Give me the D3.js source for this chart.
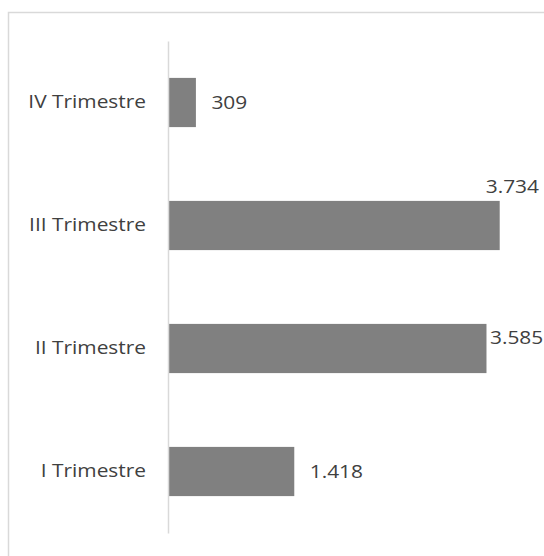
<!DOCTYPE html>
<html>
<head>
<meta charset="utf-8">
<script src="https://cdn.jsdelivr.net/npm/d3@7"></script>
<style>
  body { margin: 0; background: #fff; }
  svg { display: block; }
  text { font-family: "Open Sans", "Noto Sans", sans-serif; fill: #404040; }
</style>
</head>
<body>
<svg width="544" height="556"></svg>
<script>
let categories = ["IV Trimestre", "III Trimestre", "II Trimestre", "I Trimestre"];
let values = [309, 3734, 3585, 1418];
let valueLabels = ["309", "3.734", "3.585", "1.418"];

let svg = d3.select("svg"),
    width = +svg.attr("width"),
    height = +svg.attr("height");

let margin = {top: 41, left: 168, bottom: 23, right: 21};
let stretch = 1.16; // source text is rendered wide

// chart frame, cut off at right and bottom like the source
svg.append("rect")
    .attr("x", 8.5).attr("y", 12.5)
    .attr("width", width + 10).attr("height", height + 10)
    .attr("fill", "none")
    .attr("stroke", "#d9d9d9")
    .attr("stroke-width", 1.5);

let x = d3.scaleLinear()
    .domain([0, 4000])
    .range([margin.left, margin.left + 354.8]);

let y = d3.scaleBand()
    .domain(categories)
    .range([margin.top, height - margin.bottom])
    .paddingInner(0.6)
    .paddingOuter(0.3);

let data = categories.map((c, i) => ({cat: c, value: values[i], label: valueLabels[i]}));

svg.append("g")
    .selectAll("rect")
    .data(data).enter().append("rect")
        .attr("x", x(0) + 0.5)
        .attr("y", d => y(d.cat))
        .attr("width", d => x(d.value) - x(0))
        .attr("height", y.bandwidth())
        .attr("fill", "#808080");

// category axis
let yAxis = svg.append("g")
    .attr("transform", `translate(${x(0)},0)`)
    .call(d3.axisLeft(y).tickSize(0).tickPadding(22));
yAxis.select(".domain")
    .attr("stroke", "#d9d9d9")
    .attr("stroke-width", 1.5);
yAxis.selectAll("text")
    .attr("font-size", "18px")
    .attr("fill", "#404040")
    .style("font-family", "'Open Sans', sans-serif")
    .attr("x", -22 / stretch)
    .attr("transform", `scale(${stretch},1)`);

// value labels, moved in when they would spill out of the picture
let labels = svg.append("g")
    .selectAll("text")
    .data(data).enter().append("text")
        .attr("font-size", "18px")
        .attr("dy", "0.35em")
        .text(d => d.label);

labels.each(function(d){
    let t = d3.select(this);
    let w = this.getComputedTextLength() * stretch;
    let lx = x(d.value) + 16;
    let ly = y(d.cat) + y.bandwidth() / 2;
    if (lx + w > width - 5) {
        lx = x(d.value) + 4;
        if (lx + w > width) {
            lx = width - 5 - w;
            ly = y(d.cat) - 14;
        } else {
            ly -= 11;
        }
    }
    t.attr("x", lx / stretch).attr("y", ly)
        .attr("transform", `scale(${stretch},1)`);
});
</script>
</body>
</html>
